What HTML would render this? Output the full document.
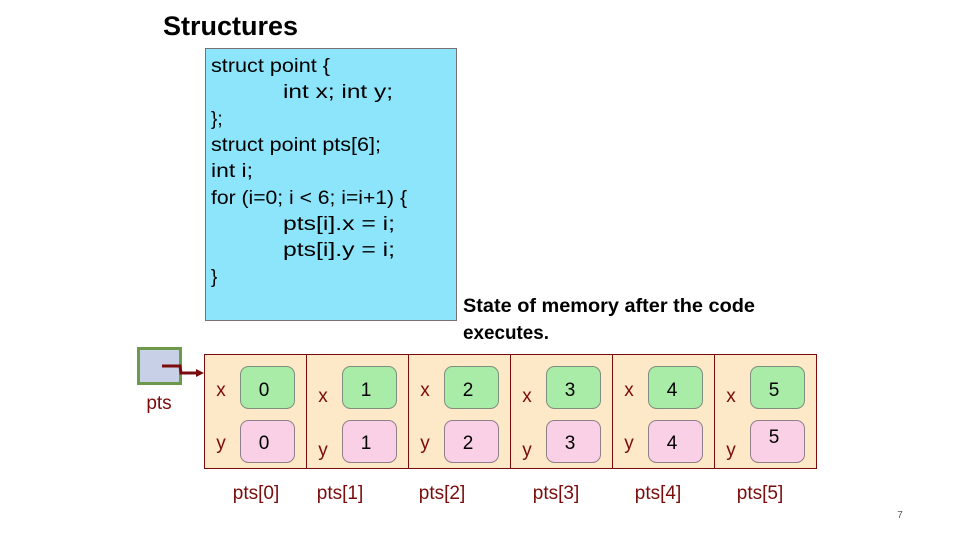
<!DOCTYPE html>
<html><head><meta charset="utf-8"><style>
html,body{margin:0;padding:0;background:#fff;}
svg{display:block;font-family:"Liberation Sans",sans-serif;}
</style></head><body>
<svg width="960" height="540" viewBox="0 0 960 540" xmlns="http://www.w3.org/2000/svg">
<text x="163" y="35" font-size="27" font-weight="bold" fill="#000" textLength="135" lengthAdjust="spacingAndGlyphs">Structures</text>
<rect x="205.5" y="48.5" width="251" height="272" fill="#8de5fb" stroke="#7a6f73" stroke-width="1"/>
<g font-size="19" fill="#000">
<text x="211" y="72" textLength="119" lengthAdjust="spacingAndGlyphs">struct point {</text>
<text x="283" y="98" textLength="110" lengthAdjust="spacingAndGlyphs">int x; int y;</text>
<text x="211" y="125">};</text>
<text x="211" y="151" textLength="170" lengthAdjust="spacingAndGlyphs">struct point pts[6];</text>
<text x="211" y="177" textLength="42" lengthAdjust="spacingAndGlyphs">int i;</text>
<text x="211" y="204" textLength="196" lengthAdjust="spacingAndGlyphs">for (i=0; i &lt; 6; i=i+1) {</text>
<text x="283" y="230" textLength="112" lengthAdjust="spacingAndGlyphs">pts[i].x = i;</text>
<text x="283" y="256" textLength="112" lengthAdjust="spacingAndGlyphs">pts[i].y = i;</text>
<text x="211" y="283">}</text>
</g>
<g font-size="19" font-weight="bold" fill="#000">
<text x="463" y="312" textLength="292" lengthAdjust="spacingAndGlyphs">State of  memory after the code</text>
<text x="463" y="339" textLength="86" lengthAdjust="spacingAndGlyphs">executes.</text>
</g>
<rect x="138.5" y="348.5" width="42" height="35" fill="#c8d0e8" stroke="#6d9a4a" stroke-width="3"/>
<text x="159" y="409" font-size="19" fill="#7a0c0c" text-anchor="middle">pts</text>
<polyline points="162,366 180,366 181,373 198,373" fill="none" stroke="#7a0c0c" stroke-width="3"/>
<polygon points="196,369 204,373 196,377" fill="#7a0c0c"/>
<rect x="204.5" y="354.5" width="612" height="114" fill="#fde9c8" stroke="#7a0c0c" stroke-width="1"/>
<g stroke="#7a0c0c" stroke-width="1">
<line x1="306.5" y1="354" x2="306.5" y2="468"/>
<line x1="408.5" y1="354" x2="408.5" y2="468"/>
<line x1="510.5" y1="354" x2="510.5" y2="468"/>
<line x1="612.5" y1="354" x2="612.5" y2="468"/>
<line x1="714.5" y1="354" x2="714.5" y2="468"/>
</g>
<g font-size="19">
<!-- cells -->
<g transform="translate(204,0)">
<rect x="36.5" y="366.5" width="54" height="42" rx="8" fill="#a8eca8" stroke="#7f8f7f"/>
<rect x="36.5" y="420.5" width="54" height="42" rx="8" fill="#f9d0e5" stroke="#8f7f8a"/>
<text x="17" y="396" fill="#7a0c0c" text-anchor="middle">x</text><text x="17" y="449" fill="#7a0c0c" text-anchor="middle">y</text>
<text x="60" y="396" text-anchor="middle">0</text><text x="60" y="449" text-anchor="middle">0</text>
<text x="52" y="499" fill="#7a0c0c" text-anchor="middle">pts[0]</text></g>
<g transform="translate(306,0)">
<rect x="36.5" y="366.5" width="54" height="42" rx="8" fill="#a8eca8" stroke="#7f8f7f"/>
<rect x="36.5" y="420.5" width="54" height="42" rx="8" fill="#f9d0e5" stroke="#8f7f8a"/>
<text x="17" y="402" fill="#7a0c0c" text-anchor="middle">x</text><text x="17" y="456" fill="#7a0c0c" text-anchor="middle">y</text>
<text x="60" y="396" text-anchor="middle">1</text><text x="60" y="449" text-anchor="middle">1</text>
<text x="34" y="499" fill="#7a0c0c" text-anchor="middle">pts[1]</text></g>
<g transform="translate(408,0)">
<rect x="36.5" y="366.5" width="54" height="42" rx="8" fill="#a8eca8" stroke="#7f8f7f"/>
<rect x="36.5" y="420.5" width="54" height="42" rx="8" fill="#f9d0e5" stroke="#8f7f8a"/>
<text x="17" y="396" fill="#7a0c0c" text-anchor="middle">x</text><text x="17" y="449" fill="#7a0c0c" text-anchor="middle">y</text>
<text x="60" y="396" text-anchor="middle">2</text><text x="60" y="449" text-anchor="middle">2</text>
<text x="34" y="499" fill="#7a0c0c" text-anchor="middle">pts[2]</text></g>
<g transform="translate(510,0)">
<rect x="36.5" y="366.5" width="54" height="42" rx="8" fill="#a8eca8" stroke="#7f8f7f"/>
<rect x="36.5" y="420.5" width="54" height="42" rx="8" fill="#f9d0e5" stroke="#8f7f8a"/>
<text x="17" y="402" fill="#7a0c0c" text-anchor="middle">x</text><text x="17" y="456" fill="#7a0c0c" text-anchor="middle">y</text>
<text x="60" y="396" text-anchor="middle">3</text><text x="60" y="449" text-anchor="middle">3</text>
<text x="46" y="499" fill="#7a0c0c" text-anchor="middle">pts[3]</text></g>
<g transform="translate(612,0)">
<rect x="36.5" y="366.5" width="54" height="42" rx="8" fill="#a8eca8" stroke="#7f8f7f"/>
<rect x="36.5" y="420.5" width="54" height="42" rx="8" fill="#f9d0e5" stroke="#8f7f8a"/>
<text x="17" y="396" fill="#7a0c0c" text-anchor="middle">x</text><text x="17" y="449" fill="#7a0c0c" text-anchor="middle">y</text>
<text x="60" y="396" text-anchor="middle">4</text><text x="60" y="449" text-anchor="middle">4</text>
<text x="46" y="499" fill="#7a0c0c" text-anchor="middle">pts[4]</text></g>
<g transform="translate(714,0)">
<rect x="36.5" y="366.5" width="54" height="42" rx="8" fill="#a8eca8" stroke="#7f8f7f"/>
<rect x="36.5" y="420.5" width="54" height="42" rx="8" fill="#f9d0e5" stroke="#8f7f8a"/>
<text x="17" y="402" fill="#7a0c0c" text-anchor="middle">x</text><text x="17" y="456" fill="#7a0c0c" text-anchor="middle">y</text>
<text x="60" y="396" text-anchor="middle">5</text><text x="60" y="443" text-anchor="middle">5</text>
<text x="46" y="499" fill="#7a0c0c" text-anchor="middle">pts[5]</text></g>
</g>
<text x="900" y="518" font-size="10" fill="#555" text-anchor="middle">7</text>
</svg>
</body></html>
